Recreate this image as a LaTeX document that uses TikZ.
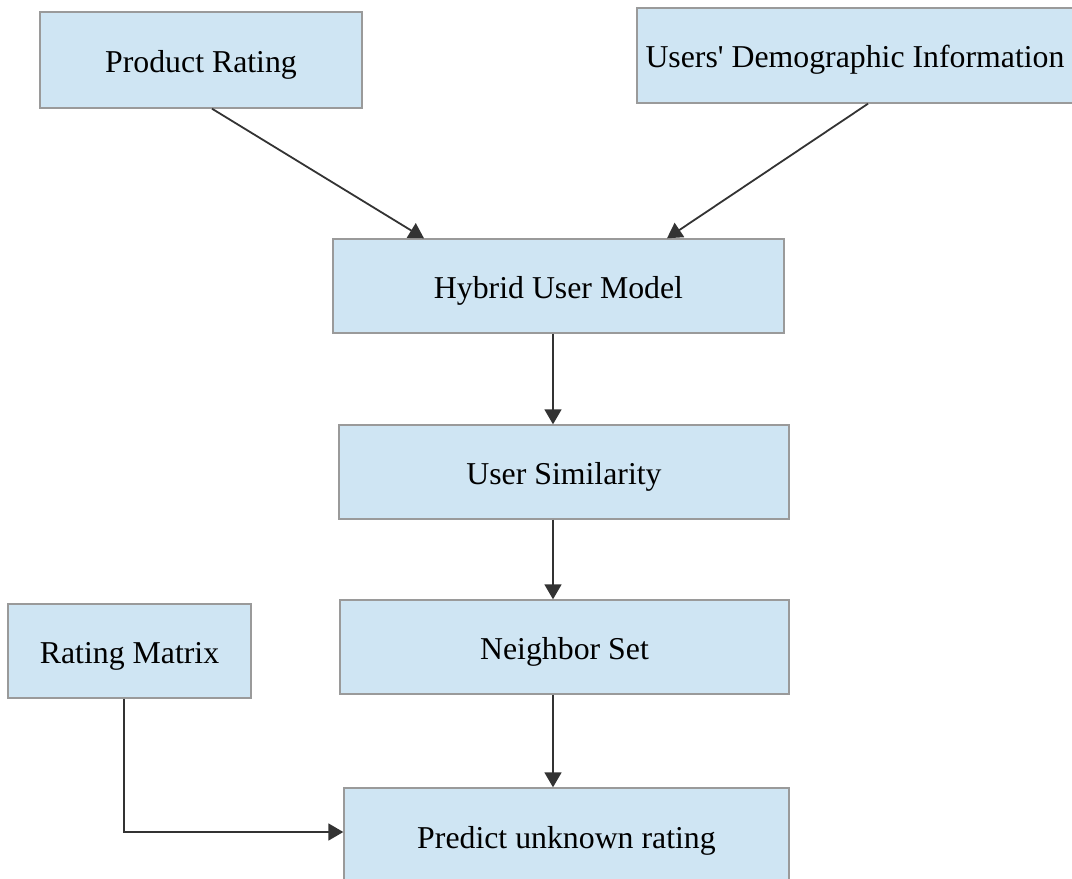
\documentclass[tikz,border=0pt]{standalone}
\usepackage{fontspec}
\setmainfont{Liberation Serif}[Ligatures=TeXOff]
\usetikzlibrary{arrows.meta}
\definecolor{boxfill}{HTML}{CFE5F3}
\definecolor{boxline}{HTML}{9A9A9A}
\definecolor{arrowc}{HTML}{333333}
\tikzset{
  block/.style={rectangle, draw=boxline, line width=1.4pt, fill=boxfill,
    inner sep=0pt, text height=24pt, text depth=0pt,
    font=\fontsize{31.8}{38}\selectfont},
  flow/.style={draw=arrowc, line width=1.8pt,
    -{Triangle[length=15pt,width=17pt]}}
}
\begin{document}
\begin{tikzpicture}[x=1pt,y=-1pt]
\useasboundingbox (0,0) rectangle (1072,879);

\node[block, minimum width=322pt, minimum height=96pt] (pr) at (201,60) {Product Rating};
\node[block, minimum width=436pt, minimum height=95pt] (udi) at (855,55.5) {Users' Demographic Information};
\node[block, minimum width=451pt, minimum height=94pt] (hum) at (558.5,286) {Hybrid User Model};
\node[block, minimum width=450pt, minimum height=94pt] (us) at (564,472) {User Similarity};
\node[block, minimum width=449pt, minimum height=94pt] (ns) at (564.5,647) {Neighbor Set};
\node[block, minimum width=243pt, minimum height=94pt] (rm) at (129.5,651) {Rating Matrix};
\node[block, minimum width=445pt, minimum height=96pt] (pu) at (566.5,836) {Predict unknown rating};

\draw[flow] (212,0 |- pr.south) -- (424,0 |- hum.north);
\draw[flow] (868,0 |- udi.south) -- (667,0 |- hum.north);
\draw[flow] (553,0 |- hum.south) -- (553,0 |- us.north);
\draw[flow] (553,0 |- us.south) -- (553,0 |- ns.north);
\draw[flow] (553,0 |- ns.south) -- (553,0 |- pu.north);
\draw[flow] (124,0 |- rm.south) |- (pu.west |- 0,832);
\end{tikzpicture}
\end{document}
